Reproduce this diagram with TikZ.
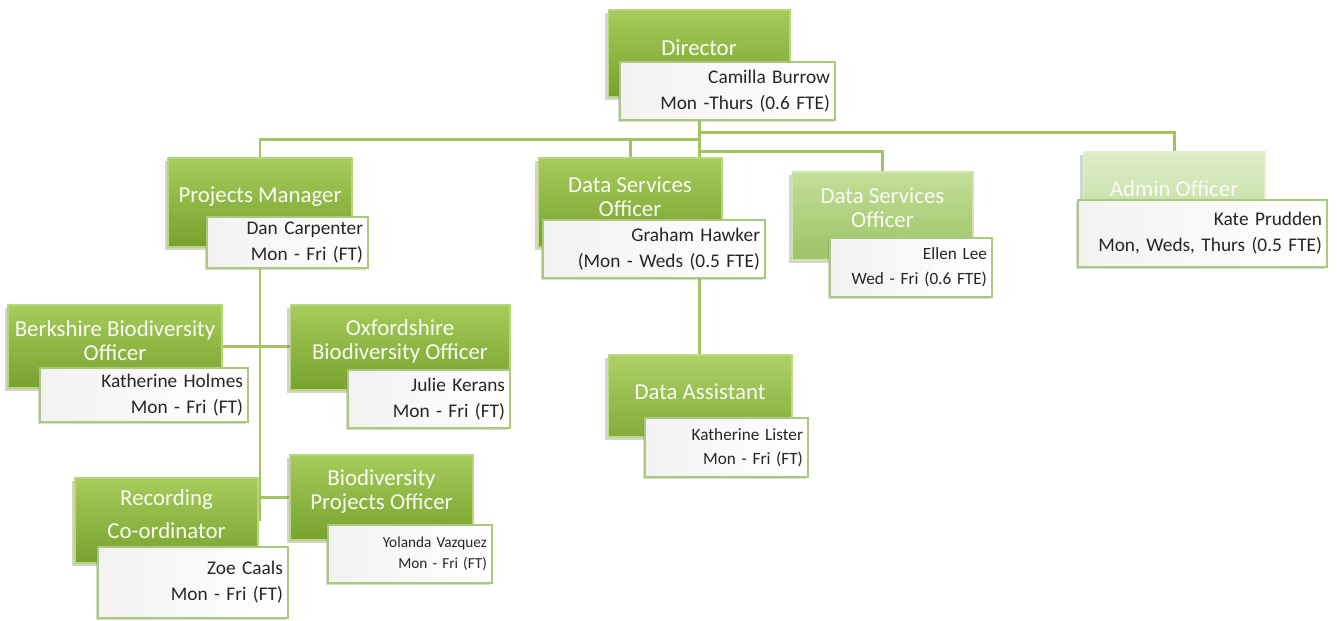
\documentclass[tikz,border=0pt]{standalone}
\usepackage{fontspec}
\setmainfont{Carlito}
\usetikzlibrary{shadows,backgrounds}

\definecolor{strongtop}{HTML}{A6CC5B}
\definecolor{strongbot}{HTML}{78A12D}
\definecolor{midtop}{HTML}{ADD166}
\definecolor{midbot}{HTML}{84AC3C}
\definecolor{paletop}{HTML}{C3DF98}
\definecolor{palebot}{HTML}{9CC266}
\definecolor{fainttop}{HTML}{DCEEC6}
\definecolor{faintbot}{HTML}{BDD99C}
\definecolor{linkgreen}{HTML}{A2C564}
\definecolor{cardedge}{HTML}{A9C97F}

\tikzset{
  role/.style={rectangle, draw=#1top!80!white, line width=0.6pt, top color=#1top, bottom color=#1bot,
    drop shadow={shadow xshift=-1.5pt, shadow yshift=-1.5pt, opacity=.35}},
  roletext/.style={text=white!94!strongtop, align=center, font=\fontsize{13}{13.6}\selectfont, yshift=0.12cm},
  card/.style={rectangle, draw=cardedge, line width=0.8pt, left color=black!5, right color=white,
    text=black!85, align=right, inner xsep=0.1cm, inner ysep=0pt, font=\fontsize{11}{14.7}\selectfont,
    drop shadow={shadow xshift=-1.2pt, shadow yshift=-1.2pt, opacity=.3}},
  smallcard/.style={card, font=\fontsize{9.8}{14}\selectfont},
  tinycard/.style={card, font=\fontsize{8.7}{12}\selectfont},
  link/.style={draw=linkgreen, line width=1.7pt}
}

\begin{document}
\begin{tikzpicture}[x=0.02cm, y=-0.02cm]
\useasboundingbox (0,0) rectangle (1337,620);

\node[role=strong, minimum width=3.64cm, minimum height=1.74cm, label={[roletext]center:Director}] (dir) at (699,53.5) {};
\node[card, text width=4.1cm, minimum height=1.16cm] (dircard) at (727.5,91) {Camilla Burrow\\Mon -Thurs (0.6 FTE)};

\node[role=strong, minimum width=3.68cm, minimum height=1.78cm, label={[roletext]center:Projects Manager}] (pm) at (260,202.5) {};
\node[card, text width=3.02cm, minimum height=1.02cm] (pmcard) at (287.5,242.5) {Dan Carpenter\\Mon - Fri (FT)};

\node[role=strong, minimum width=3.68cm, minimum height=1.78cm, label={[roletext]center:{Data Services\\Officer}}] (dso1) at (630,202.5) {};
\node[card, text width=4.24cm, minimum height=1.16cm] (dso1card) at (654,249) {Graham Hawker\\(Mon - Weds (0.5 FTE)};

\node[role=pale, minimum width=3.62cm, minimum height=1.76cm, label={[roletext, yshift=0.05cm]center:{Data Services\\Officer}}] (dso2) at (882.5,216) {};
\node[smallcard, text width=3.04cm, minimum height=1.18cm] (dso2card) at (911,267.5) {Ellen Lee\\Wed - Fri (0.6 FTE)};

\node[role=faint, minimum width=3.64cm, minimum height=1.76cm, label={[roletext, yshift=0.02cm]center:Admin Officer}] (admin) at (1174,196) {};
\node[card, text width=4.78cm, minimum height=1.34cm] (admincard) at (1202.5,233.5) {Kate Prudden\\Mon, Weds, Thurs (0.5 FTE)};

\node[role=strong, minimum width=4.28cm, minimum height=1.66cm, label={[roletext]center:{Berkshire Biodiversity\\Officer}}] (berks) at (115,346.5) {};
\node[card, text width=3.96cm, minimum height=1.08cm] (berkscard) at (144,395) {Katherine Holmes\\Mon - Fri (FT)};

\node[role=strong, minimum width=4.4cm, minimum height=1.7cm, label={[roletext]center:{Oxfordshire\\Biodiversity Officer}}] (oxon) at (400,347.5) {};
\node[card, text width=3.04cm, minimum height=1.16cm] (oxoncard) at (429,399) {Julie Kerans\\Mon - Fri (FT)};

\node[role=mid, minimum width=3.68cm, minimum height=1.64cm, label={[roletext, yshift=-0.04cm]center:Data Assistant}] (da) at (700,396) {};
\node[smallcard, text width=3.06cm, minimum height=1.18cm] (dacard) at (726.5,447.5) {Katherine Lister\\Mon - Fri (FT)};

\node[role=strong, minimum width=3.66cm, minimum height=1.7cm, label={[roletext]center:{Recording\\[0.18cm]Co-ordinator}}] (rec) at (166.5,520.5) {};
\node[card, text width=3.6cm, minimum height=1.42cm] (reccard) at (193,582.5) {Zoe Caals\\Mon - Fri (FT)};

\node[role=strong, minimum width=3.66cm, minimum height=1.7cm, label={[roletext]center:{Biodiversity\\Projects Officer}}] (bpo) at (381.5,497.5) {};
\node[tinycard, text width=3.08cm, minimum height=1.16cm] (bpocard) at (410,554) {Yolanda Vazquez\\Mon - Fri (FT)};

\begin{scope}[on background layer]
\draw[link] (dir.south) -- (dir.south |- da.north);
\draw[link] (pm.north) -- ++(0,-18) -| (dir.south);
\draw[link] (dso1.north) -- ++(0,-18) -| (dir.south);
\draw[link] (dso2.north) -- ++(0,-20) -| (dir.south);
\draw[link] (admin.north) -- ++(0,-19) -| (dir.south);
\draw[link] (pm.south) -- (pm.south |- rec.east);
\draw[link] (berks.east) -- (berks.east -| oxon.west);
\draw[link] (bpo.west) -- (bpo.west -| pm.south);
\end{scope}

\end{tikzpicture}
\end{document}
